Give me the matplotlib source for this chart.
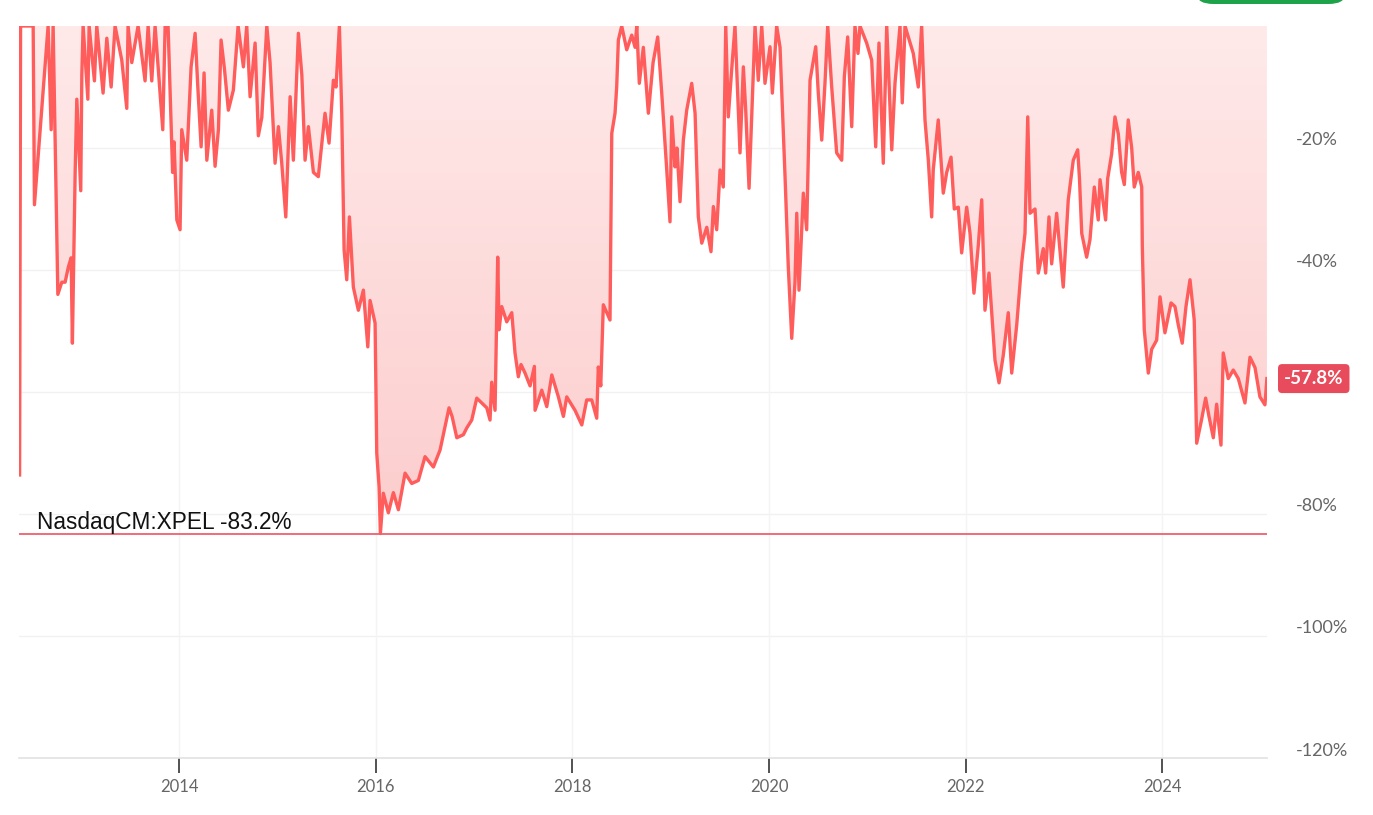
import numpy as np
import matplotlib
matplotlib.use("Agg")
import matplotlib.pyplot as plt
from matplotlib.patches import Polygon, FancyBboxPatch
from matplotlib.transforms import ScaledTranslation, blended_transform_factory

# ---------------- data (decimal year, drawdown %) ----------------
years = [
    2012.378, 2012.388, 2012.516, 2012.529, 2012.668, 2012.699, 2012.719, 2012.767,
    2012.807, 2012.841, 2012.874, 2012.902, 2012.915, 2012.943, 2012.960, 2013.000,
    2013.011, 2013.024, 2013.072, 2013.085, 2013.139, 2013.163, 2013.227, 2013.265,
    2013.309, 2013.349, 2013.417, 2013.468, 2013.481, 2013.519, 2013.583, 2013.654,
    2013.685, 2013.722, 2013.756, 2013.834, 2013.858, 2013.888, 2013.919, 2013.934,
    2013.949, 2013.977, 2014.010, 2014.027, 2014.078, 2014.122, 2014.163, 2014.190,
    2014.224, 2014.254, 2014.282, 2014.332, 2014.366, 2014.400, 2014.427, 2014.461,
    2014.501, 2014.552, 2014.600, 2014.654, 2014.688, 2014.722, 2014.773, 2014.806,
    2014.841, 2014.892, 2014.925, 2014.976, 2015.010, 2015.044, 2015.085, 2015.129,
    2015.162, 2015.213, 2015.248, 2015.281, 2015.315, 2015.366, 2015.416, 2015.484,
    2015.525, 2015.569, 2015.596, 2015.630, 2015.654, 2015.678, 2015.705, 2015.732,
    2015.772, 2015.823, 2015.874, 2015.919, 2015.942, 2015.993, 2016.010, 2016.034,
    2016.047, 2016.077, 2016.128, 2016.179, 2016.230, 2016.298, 2016.366, 2016.433,
    2016.501, 2016.586, 2016.654, 2016.745, 2016.776, 2016.824, 2016.891, 2016.925,
    2016.976, 2017.027, 2017.078, 2017.129, 2017.162, 2017.179, 2017.213, 2017.240,
    2017.254, 2017.281, 2017.332, 2017.383, 2017.416, 2017.450, 2017.477, 2017.518,
    2017.569, 2017.613, 2017.620, 2017.688, 2017.739, 2017.790, 2017.857, 2017.908,
    2017.942, 2018.026, 2018.095, 2018.145, 2018.196, 2018.247, 2018.263, 2018.288,
    2018.314, 2018.382, 2018.400, 2018.433, 2018.450, 2018.467, 2018.501, 2018.552,
    2018.603, 2018.637, 2018.654, 2018.680, 2018.721, 2018.772, 2018.820, 2018.867,
    2018.908, 2018.959, 2018.992, 2019.010, 2019.043, 2019.063, 2019.094, 2019.128,
    2019.162, 2019.213, 2019.247, 2019.280, 2019.315, 2019.366, 2019.409, 2019.433,
    2019.467, 2019.501, 2019.534, 2019.559, 2019.585, 2019.620, 2019.653, 2019.704,
    2019.738, 2019.762, 2019.796, 2019.829, 2019.857, 2019.890, 2019.925, 2019.958,
    2020.009, 2020.033, 2020.077, 2020.111, 2020.162, 2020.195, 2020.230, 2020.263,
    2020.281, 2020.304, 2020.348, 2020.382, 2020.416, 2020.474, 2020.500, 2020.535,
    2020.568, 2020.596, 2020.636, 2020.687, 2020.738, 2020.765, 2020.799, 2020.840,
    2020.873, 2020.904, 2020.924, 2020.992, 2021.043, 2021.084, 2021.117, 2021.161,
    2021.196, 2021.247, 2021.280, 2021.331, 2021.354, 2021.382, 2021.466, 2021.517,
    2021.551, 2021.585, 2021.619, 2021.653, 2021.669, 2021.720, 2021.771, 2021.806,
    2021.850, 2021.883, 2021.924, 2021.958, 2022.009, 2022.043, 2022.083, 2022.127,
    2022.162, 2022.195, 2022.236, 2022.297, 2022.338, 2022.381, 2022.432, 2022.467,
    2022.518, 2022.568, 2022.602, 2022.630, 2022.653, 2022.704, 2022.737, 2022.788,
    2022.812, 2022.846, 2022.873, 2022.924, 2022.991, 2023.042, 2023.093, 2023.138,
    2023.156, 2023.179, 2023.229, 2023.263, 2023.307, 2023.347, 2023.365, 2023.422,
    2023.443, 2023.483, 2023.517, 2023.551, 2023.585, 2023.612, 2023.652, 2023.687,
    2023.713, 2023.754, 2023.789, 2023.795, 2023.815, 2023.856, 2023.890, 2023.941,
    2023.975, 2024.025, 2024.087, 2024.127, 2024.161, 2024.201, 2024.239, 2024.280,
    2024.323, 2024.348, 2024.398, 2024.439, 2024.473, 2024.517, 2024.551, 2024.595,
    2024.618, 2024.669, 2024.720, 2024.771, 2024.839, 2024.890, 2024.941, 2024.991,
    2025.042, 2025.062,
]
drawdown = [
    -73.6, 0.0, 0.0, -29.3, 0.0, -17.0, 0.0, -44.0,
    -42.0, -42.0, -39.5, -38.0, -52.0, -24.0, -12.0, -27.0,
    -8.0, 0.0, -12.0, 0.0, -9.0, 0.0, -11.0, -2.0,
    -10.0, 0.0, -5.6, -13.5, 0.0, -6.0, 0.0, -9.0,
    0.0, -9.0, 0.0, -17.0, 0.0, 0.0, -16.0, -24.0,
    -19.0, -31.8, -33.4, -17.0, -22.0, -6.7, -1.2, -9.9,
    -19.8, -7.7, -22.0, -13.8, -23.0, -17.0, -2.3, -7.0,
    -13.8, -10.5, 0.0, -6.7, 0.0, -11.6, -2.8, -18.0,
    -15.0, 0.0, -6.0, -22.5, -16.5, -22.5, -31.3, -11.6,
    -22.0, -1.2, -8.0, -22.0, -16.5, -24.0, -24.7, -14.3,
    -19.2, -8.9, -10.0, 0.0, -14.3, -36.7, -41.6, -31.3,
    -42.8, -46.6, -43.3, -52.6, -45.0, -48.7, -70.0, -75.6,
    -83.2, -76.6, -79.8, -76.5, -79.3, -73.3, -75.0, -74.5,
    -70.6, -72.3, -69.5, -62.6, -64.0, -67.5, -67.0, -65.9,
    -64.6, -61.0, -61.8, -62.6, -64.6, -58.4, -63.0, -37.9,
    -49.8, -46.0, -48.5, -47.0, -53.6, -57.5, -55.5, -56.9,
    -59.0, -55.8, -63.0, -59.7, -62.4, -57.2, -60.8, -64.0,
    -60.8, -63.0, -65.4, -61.3, -61.3, -64.3, -55.9, -59.0,
    -45.7, -48.2, -17.6, -14.3, -10.0, -2.3, 0.0, -3.9,
    -1.5, -3.5, 0.0, -9.4, -3.5, -14.3, -6.0, -1.8,
    -11.0, -23.6, -32.1, -14.9, -23.1, -20.0, -28.8, -18.7,
    -13.8, -9.4, -14.3, -31.3, -35.6, -33.0, -37.0, -29.6,
    -33.4, -23.6, -26.4, 0.0, -14.9, -7.0, 0.0, -20.8,
    -6.7, -13.8, -26.6, -12.1, 0.0, -8.9, 0.0, -9.4,
    -3.4, -11.0, 0.0, -3.5, -24.7, -39.5, -51.2, -42.0,
    -30.7, -43.3, -27.4, -33.4, -8.9, -3.4, -11.0, -18.7,
    -9.4, 0.0, -9.9, -20.8, -22.0, -8.3, -1.8, -16.5,
    0.0, -4.5, 0.0, -2.8, -5.6, -19.8, -2.8, -22.5,
    0.0, -20.3, -9.4, 0.0, -12.6, 0.0, -4.5, -10.0,
    0.0, -15.4, -22.0, -31.3, -23.6, -15.4, -27.4, -24.0,
    -21.5, -30.0, -29.7, -37.2, -29.7, -34.0, -43.8, -36.0,
    -28.5, -46.6, -40.5, -54.8, -58.5, -54.0, -47.0, -56.9,
    -49.0, -38.9, -34.0, -14.9, -30.7, -30.0, -40.5, -36.5,
    -40.5, -31.3, -39.0, -30.7, -42.8, -28.5, -22.0, -20.3,
    -25.0, -34.0, -37.9, -35.0, -26.4, -31.8, -25.2, -31.8,
    -25.0, -21.0, -14.9, -17.7, -24.0, -26.0, -15.4, -20.0,
    -26.4, -24.0, -26.4, -36.2, -49.8, -56.9, -53.0, -51.5,
    -44.4, -50.3, -45.4, -46.0, -49.0, -52.0, -46.0, -41.6,
    -48.2, -68.4, -64.5, -61.0, -64.0, -67.5, -62.0, -68.7,
    -53.6, -57.8, -56.4, -57.8, -61.8, -54.3, -56.0, -60.8,
    -62.1, -57.8,
]
max_drawdown = -83.2
last_value = -57.8
ticker = "NasdaqCM:XPEL"
year_ticks = [2014, 2016, 2018, 2020, 2022, 2024]
pct_ticks = [-20, -40, -60, -80, -100, -120]
pct_labels = ["-20%", "-40%", "", "-80%", "-100%", "-120%"]
x_range = (2012.372, 2025.063)
y_range = (-120, 0)

# ---------------- figure ----------------
W, H, DPI = 1373, 815, 100
fig = plt.figure(figsize=(W / DPI, H / DPI), dpi=DPI)
fig.patch.set_facecolor("white")
ax = fig.add_axes([19 / W, 1 - 758 / H, (1267 - 19) / W, (758 - 26) / H])
ax.set_facecolor("white")

line_color = "#ff5c5c"
x = np.array(years)
y = np.array(drawdown)

# gradient fill between line and 0
verts = list(zip(x, y)) + list(zip(x[::-1], np.zeros_like(x)))
poly = Polygon(verts, closed=True, facecolor="none", edgecolor="none")
ax.add_patch(poly)
grad = np.linspace(0, 1, 256).reshape(-1, 1)
top_c = np.array([1.0, 0.915, 0.915])
bot_c = np.array([0.99, 0.80, 0.80])
img = top_c[None, None, :] * (1 - grad[:, :, None]) + bot_c[None, None, :] * grad[:, :, None]
im = ax.imshow(img, extent=[x_range[0], x_range[1], -85, 0], origin="upper",
               aspect="auto", zorder=1, interpolation="bilinear")
im.set_clip_path(poly)

ax.plot(x, y, color=line_color, lw=2.4, zorder=3, solid_joinstyle="round")

# max drawdown line + label
ax.axhline(max_drawdown, color="#f0606e", lw=1.3, zorder=3)
ax.text(x_range[0] + (37 - 19) / 98.35, max_drawdown,
        f"{ticker} {max_drawdown:.1f}%",
        transform=ax.transData + ScaledTranslation(0, 5 / DPI, fig.dpi_scale_trans),
        ha="left", va="baseline", fontsize=16.3, color="#111111",
        family=["Liberation Sans", "DejaVu Sans"], zorder=4)

ax.set_xlim(*x_range)
ax.set_ylim(*y_range)

# grid
for yt in pct_ticks[:-1]:
    ax.axhline(yt, color="#f1f1f1", lw=1.0, zorder=0.5)
for xt in year_ticks:
    ax.axvline(xt, color="#f4f4f4", lw=1.0, zorder=0.5)

# axes styling
for s in ["top", "left", "right"]:
    ax.spines[s].set_visible(False)
ax.spines["bottom"].set_color("#e2e2e2")
ax.spines["bottom"].set_linewidth(1.2)

ax.set_xticks(year_ticks)
ax.set_xticklabels([str(t) for t in year_ticks])
ax.tick_params(axis="x", direction="out", length=11, width=1.3, color="#444444",
               pad=4, labelsize=12, labelcolor="#666666")
ax.yaxis.tick_right()
ax.set_yticks(pct_ticks)
ax.set_yticklabels(pct_labels)
ax.tick_params(axis="y", length=0, pad=21, labelsize=13, labelcolor="#666666")
for lab in ax.get_yticklabels():
    lab.set_transform(lab.get_transform() + ScaledTranslation(0, 9 / DPI, fig.dpi_scale_trans))
    lab.set_family(["Lato", "DejaVu Sans"])
for lab in ax.get_xticklabels():
    lab.set_family(["Lato", "DejaVu Sans"])

# last value badge
trans = blended_transform_factory(ax.transAxes, ax.transData)
ax.text(1.0, last_value, f"{last_value:.1f}%",
        transform=trans + ScaledTranslation(17 / DPI, 0, fig.dpi_scale_trans),
        ha="left", va="center", fontsize=13.5, color="white", fontweight="bold",
        family=["Lato", "DejaVu Sans"], zorder=6, clip_on=False,
        bbox=dict(boxstyle="round,pad=0.32,rounding_size=0.22", fc="#e84c5c", ec="none"))

# partially visible green button at the top
btn = FancyBboxPatch((1197 / W, 1 - 4 / H), 148 / W, 30 / H,
                     boxstyle="round,pad=0,rounding_size=0.012",
                     transform=fig.transFigure, fc="#1fa34a", ec="none", clip_on=False)
fig.patches.append(btn)

fig.savefig("out.png", dpi=DPI, facecolor="white")
